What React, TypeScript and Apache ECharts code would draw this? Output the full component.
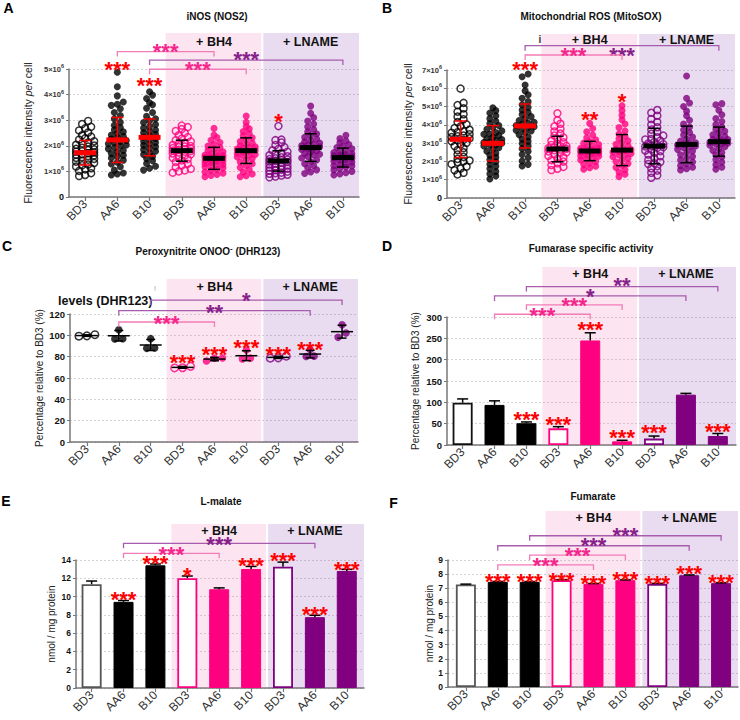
import React, { useEffect, useRef } from "react";
import * as echarts from "echarts";

// ---------- shared labels ----------
const CATEGORIES = ["BD3", "AA6", "B10", "BD3", "AA6", "B10", "BD3", "AA6", "B10"];
const TREATMENTS = ["+ BH4", "+ LNAME"];
const LETTERS = ["A", "B", "C", "D", "E", "F"];
const TITLES = [
  "iNOS (NOS2)",
  "Mitochondrial ROS (MitoSOX)",
  "{b|Peroxynitrite ONOO}{s|-}{b| (DHR123)}",
  "Fumarase specific activity",
  "L-malate",
  "Fumarate",
];
const Y_NAMES = [
  "Fluorescence intensity {i|per} cell",
  "Fluorescence intensity {i|per} cell",
  "Percentage relative to BD3 (%)",
  "Percentage relative to BD3 (%)",
  "nmol / mg protein",
  "nmol / mg protein",
];

// ---------- Panel A: iNOS, fluorescence per cell (x10^6) ----------
const A_BD3 = [0.82, 0.86, 0.93, 1.02, 1.08, 1.12, 1.19, 1.24, 1.27, 1.33, 1.38, 1.41, 1.46, 1.49, 1.53, 1.56, 1.6, 1.63, 1.66, 1.68, 1.71, 1.74, 1.77, 1.79, 1.83, 1.86, 1.88, 1.92, 1.97, 2.01, 2.04, 2.09, 2.13, 2.18, 2.24, 2.29, 2.36, 2.41, 2.52, 2.6, 2.68, 2.74, 2.85, 2.97];
const A_AA6 = [0.86, 0.9, 0.94, 1.05, 1.18, 1.29, 1.36, 1.44, 1.52, 1.58, 1.63, 1.7, 1.76, 1.82, 1.88, 1.93, 1.99, 2.03, 2.08, 2.12, 2.17, 2.21, 2.26, 2.31, 2.37, 2.42, 2.48, 2.55, 2.63, 2.71, 2.8, 2.92, 3.05, 3.18, 3.3, 3.45, 3.58, 3.62, 3.71, 3.95, 4.31, 4.87];
const A_B10 = [1.05, 1.12, 1.2, 1.31, 1.42, 1.5, 1.58, 1.66, 1.72, 1.79, 1.85, 1.9, 1.96, 2.02, 2.07, 2.13, 2.18, 2.24, 2.29, 2.34, 2.39, 2.45, 2.51, 2.56, 2.62, 2.69, 2.75, 2.83, 2.91, 2.98, 3.06, 3.15, 3.3, 3.47, 3.6, 3.68, 3.85, 3.98, 4.11];
const A_BD3_BH4 = [0.95, 1.0, 1.04, 1.1, 1.16, 1.23, 1.3, 1.37, 1.43, 1.48, 1.53, 1.58, 1.62, 1.67, 1.7, 1.74, 1.77, 1.79, 1.81, 1.84, 1.86, 1.88, 1.91, 1.95, 1.97, 1.99, 2.03, 2.07, 2.12, 2.17, 2.22, 2.28, 2.34, 2.41, 2.5, 2.58, 2.65, 2.73, 2.79];
const A_AA6_BH4 = [0.79, 0.84, 0.88, 0.93, 0.98, 1.03, 1.08, 1.13, 1.18, 1.22, 1.25, 1.27, 1.31, 1.35, 1.39, 1.41, 1.43, 1.46, 1.5, 1.53, 1.55, 1.57, 1.6, 1.62, 1.64, 1.68, 1.72, 1.77, 1.82, 1.88, 1.93, 1.99, 2.06, 2.13, 2.22, 2.32, 2.42, 2.68];
const A_B10_BH4 = [0.79, 0.83, 0.9, 0.98, 1.07, 1.15, 1.23, 1.3, 1.37, 1.44, 1.5, 1.56, 1.61, 1.64, 1.66, 1.71, 1.75, 1.79, 1.83, 1.87, 1.91, 1.93, 1.96, 2.0, 2.05, 2.11, 2.17, 2.24, 2.31, 2.39, 2.48, 2.56, 2.66, 2.75, 2.92, 3.16];
const A_BD3_LNAME = [0.77, 0.8, 0.84, 0.87, 0.91, 0.93, 0.95, 0.99, 1.03, 1.05, 1.07, 1.11, 1.15, 1.19, 1.21, 1.23, 1.27, 1.3, 1.34, 1.37, 1.39, 1.41, 1.44, 1.46, 1.48, 1.51, 1.55, 1.59, 1.63, 1.67, 1.72, 1.77, 1.82, 1.88, 1.95, 2.03, 2.13, 2.22, 2.24, 2.77];
const A_AA6_LNAME = [0.92, 0.98, 1.06, 1.14, 1.22, 1.3, 1.38, 1.45, 1.52, 1.58, 1.64, 1.67, 1.7, 1.76, 1.81, 1.86, 1.88, 1.91, 1.96, 2.01, 2.03, 2.06, 2.11, 2.16, 2.21, 2.27, 2.33, 2.4, 2.47, 2.55, 2.64, 2.74, 2.85, 2.97, 3.1, 3.27, 3.55];
const A_B10_LNAME = [0.86, 0.9, 0.95, 1.0, 1.06, 1.11, 1.17, 1.21, 1.22, 1.27, 1.32, 1.36, 1.4, 1.44, 1.48, 1.5, 1.52, 1.55, 1.57, 1.59, 1.62, 1.64, 1.66, 1.7, 1.74, 1.78, 1.83, 1.88, 1.93, 1.99, 2.05, 2.12, 2.2, 2.28, 2.41];
const A_MEAN = [1.73, 2.23, 2.33, 1.81, 1.51, 1.81, 1.41, 1.93, 1.54];
const A_SD = [0.48, 0.88, 0.72, 0.41, 0.43, 0.5, 0.4, 0.54, 0.37];
const A_COMPARISONS: [number, number, string][] = [[1, 4, "***"], [2, 8, "***"], [2, 5, "***"]];
const A_VS_BD3 = ["", "***", "***", "", "", "", "*", "", ""];

// ---------- Panel B: mitochondrial ROS (x10^6) ----------
const B_BD3 = [1.29, 1.38, 1.52, 1.61, 1.72, 1.85, 1.96, 2.0, 2.05, 2.14, 2.25, 2.38, 2.5, 2.62, 2.73, 2.84, 2.93, 3.02, 3.1, 3.15, 3.18, 3.26, 3.33, 3.38, 3.41, 3.49, 3.57, 3.6, 3.65, 3.73, 3.82, 3.92, 4.03, 4.15, 4.3, 4.45, 4.58, 4.72, 4.9, 5.08, 5.2, 5.98];
const B_AA6 = [1.04, 1.2, 1.32, 1.45, 1.6, 1.73, 1.85, 1.98, 2.1, 2.22, 2.34, 2.45, 2.56, 2.66, 2.75, 2.84, 2.88, 2.92, 3.0, 3.04, 3.08, 3.16, 3.2, 3.24, 3.32, 3.4, 3.49, 3.5, 3.58, 3.67, 3.76, 3.86, 3.96, 4.07, 4.2, 4.34, 4.5, 4.65, 4.78, 4.94];
const B_B10 = [1.75, 1.84, 2.02, 2.2, 2.38, 2.55, 2.7, 2.85, 2.98, 3.1, 3.22, 3.34, 3.46, 3.57, 3.67, 3.7, 3.77, 3.87, 3.9, 3.96, 4.05, 4.1, 4.14, 4.24, 4.34, 4.45, 4.56, 4.68, 4.81, 4.95, 5.1, 5.27, 5.45, 5.65, 5.86, 6.18, 6.63, 6.78];
const B_BD3_BH4 = [1.53, 1.6, 1.7, 1.8, 1.9, 1.99, 2.07, 2.15, 2.23, 2.31, 2.39, 2.47, 2.5, 2.55, 2.62, 2.65, 2.69, 2.72, 2.76, 2.83, 2.85, 2.9, 2.97, 3.05, 3.13, 3.22, 3.31, 3.41, 3.52, 3.64, 3.78, 3.92, 4.06, 4.25, 4.63];
const B_AA6_BH4 = [1.57, 1.65, 1.74, 1.83, 1.92, 2.0, 2.08, 2.15, 2.22, 2.29, 2.3, 2.36, 2.42, 2.45, 2.48, 2.5, 2.54, 2.56, 2.6, 2.63, 2.66, 2.7, 2.72, 2.78, 2.85, 2.92, 3.0, 3.09, 3.19, 3.3, 3.45, 3.62, 3.8, 4.08];
const B_B10_BH4 = [1.17, 1.3, 1.42, 1.55, 1.67, 1.78, 1.88, 1.98, 2.08, 2.17, 2.26, 2.35, 2.4, 2.44, 2.52, 2.55, 2.6, 2.65, 2.68, 2.76, 2.85, 2.94, 3.03, 3.13, 3.24, 3.36, 3.5, 3.66, 3.85, 4.05, 4.28, 4.52, 4.78, 5.05];
const B_BD3_LNAME = [1.11, 1.24, 1.38, 1.5, 1.62, 1.74, 1.86, 1.9, 1.97, 2.08, 2.18, 2.28, 2.38, 2.47, 2.56, 2.6, 2.65, 2.74, 2.78, 2.82, 2.86, 2.9, 2.94, 2.98, 3.06, 3.14, 3.2, 3.23, 3.32, 3.41, 3.51, 3.62, 3.74, 3.87, 4.01, 4.16, 4.32, 4.5, 4.66, 4.81];
const B_AA6_LNAME = [1.53, 1.6, 1.68, 1.77, 1.87, 1.97, 2.07, 2.17, 2.27, 2.37, 2.47, 2.57, 2.66, 2.75, 2.8, 2.84, 2.9, 2.93, 3.0, 3.02, 3.12, 3.22, 3.33, 3.45, 3.58, 3.72, 3.88, 4.05, 4.25, 4.5, 4.75, 5.0, 5.2, 5.45, 6.67];
const B_B10_LNAME = [1.57, 1.68, 1.82, 1.96, 2.1, 2.24, 2.37, 2.49, 2.6, 2.7, 2.8, 2.89, 2.95, 2.97, 3.0, 3.05, 3.1, 3.13, 3.2, 3.21, 3.29, 3.37, 3.46, 3.55, 3.65, 3.76, 3.88, 4.02, 4.18, 4.35, 4.55, 4.8, 5.1, 5.16];
const B_MEAN = [3.21, 2.99, 3.94, 2.68, 2.57, 2.62, 2.84, 2.93, 3.08];
const B_SD = [1.0, 0.97, 1.2, 0.7, 0.53, 0.85, 0.97, 1.0, 0.8];
const B_COMPARISONS: [number, number, string][] = [[2, 8, "***"], [2, 5, "***"]];
const B_VS_BD3 = ["", "", "***", "", "**", "*", "", "", ""];

// ---------- Panel C: peroxynitrite, % of BD3 ----------
const C_BD3 = [100.6, 99.2, 99.5];
const C_AA6 = [105.3, 96.6, 96.9];
const C_B10 = [96.9, 87.8, 88.1];
const C_BD3_BH4 = [70.9, 69.4, 69.6];
const C_AA6_BH4 = [78.8, 75.9, 78.5];
const C_B10_BH4 = [86.2, 77.9, 78.6];
const C_BD3_LNAME = [80.5, 78.6, 78.9];
const C_AA6_LNAME = [86.6, 80.2, 80.5];
const C_B10_LNAME = [110.0, 98.1, 102.2];
const C_COMPARISONS: [number, number, string][] = [[2, 8, "*"], [1, 7, "**"], [1, 4, "***"]];
const C_VS_BD3 = ["", "", "", "***", "***", "***", "***", "***", ""];

// ---------- Panel D: fumarase activity, % of BD3 ----------
const D_MEAN = [99, 94, 51, 39, 245, 8.5, 15, 118, 21];
const D_ERR = [9, 9.5, 3, 4, 18, 2.5, 6, 3, 6];
const D_COMPARISONS: [number, number, string][] = [[2, 8, "**"], [1, 7, "*"], [2, 5, "***"], [1, 4, "***"]];
const D_VS_BD3 = ["", "", "***", "***", "***", "***", "***", "", "***"];

// ---------- Panel E: L-malate, nmol/mg protein ----------
const E_MEAN = [11.35, 9.42, 13.42, 12.0, 10.8, 13.02, 13.27, 7.75, 12.8];
const E_ERR = [0.35, 0.15, 0.14, 0.25, 0.15, 0.28, 0.5, 0.21, 0.18];
const E_COMPARISONS: [number, number, string][] = [[1, 7, "***"], [1, 4, "***"]];
const E_VS_BD3 = ["", "***", "***", "*", "", "***", "***", "***", "***"];

// ---------- Panel F: fumarate, nmol/mg protein ----------
const F_MEAN = [7.26, 7.45, 7.45, 7.57, 7.31, 7.57, 7.31, 7.92, 7.36];
const F_ERR = [0.03, 0.03, 0.02, 0.04, 0.02, 0.02, 0.03, 0.02, 0.02];
const F_COMPARISONS: [number, number, string][] = [[2, 8, "***"], [1, 7, "***"], [2, 5, "***"], [1, 4, "***"]];
const F_VS_BD3 = ["", "***", "***", "***", "***", "***", "***", "***", "***"];

// ---------- styling / layout ----------
const FONT = "'Liberation Sans', Arial, Helvetica, sans-serif";
const PINK = "#ff0080";
const PURPLE = "#800080";
const RED = "#ff0000";
const PINK_LINE = "#f27cb6";
const PINK_STAR = "#f5258c";
const PURPLE_LINE = "#a85cad";
const PURPLE_STAR = "#86208a";
const BAND_FILL = ["rgba(240,125,180,0.2)", "rgba(145,80,180,0.2)"];
const AXIS_COLOR = "#777";
const FS_STAR = 22;

const LAYOUT = [
  { left: 69, top: 69, width: 290, height: 128, xMin: -0.5, xMax: 8.5, yMax: 5, yInt: 1, bandTop: 33, headerY: 41.5, nameGap: 36, nameSize: 10.5, labelKind: "sci", labelSize: 7,
    letter: [8.5, 8], title: [217, 16], bracketY: [[5.68, 5.86], [5.35, 5.55], [4.99, 5.16]], starY: [0, 5.16, 4.53, 0, 0, 0, 3.14, 0, 0] },
  { left: 447, top: 70, width: 288, height: 128, xMin: -0.42, xMax: 8.5, yMax: 7, yInt: 1, bandTop: 34, headerY: 40, nameGap: 34, nameSize: 10.5, labelKind: "sci", labelSize: 7,
    letter: [387, 8], title: [591, 16.5], bracketY: [[8.33, 8.05], [7.82, 8.05]], starY: [0, 0, 7.27, 0, 4.54, 5.54, 0, 0, 0] },
  { left: 70, top: 314, width: 288, height: 128, xMin: -0.53, xMax: 8.5, yMax: 120, yInt: 20, bandTop: 279, headerY: 287, nameGap: 26, nameSize: 10, labelKind: "bold", labelSize: 9.5,
    letter: [7, 245.5], title: [208, 251.5], bracketY: [[133.1, 136.5], [123.1, 125.9], [112.5, 115.3]], starY: [0, 0, 0, 79, 86.5, 93.1, 86.5, 91.2, 0] },
  { left: 447, top: 317, width: 289, height: 128, xMin: -0.49, xMax: 8.57, yMax: 300, yInt: 50, bandTop: 267, headerY: 274, nameGap: 27, nameSize: 10, labelKind: "bold", labelSize: 9.5,
    letter: [387, 246], title: [591, 248.5], bracketY: [[371.2, 383], [349.4, 359.5], [328.2, 337.6], [306.4, 314.9]], starY: [0, 0, 69.8, 58, 281, 27.5, 39.2, 0, 42.3] },
  { left: 76, top: 560, width: 288, height: 128, xMin: -0.49, xMax: 8.54, yMax: 14, yInt: 2, bandTop: 524, headerY: 531, nameGap: 20, nameSize: 10, labelKind: "bold", labelSize: 8.5,
    letter: [6, 500.5], title: [221, 501.5], bracketY: [[15.82, 16.18], [14.73, 15.09]], starY: [0, 10.18, 14.08, 12.8, 0, 13.89, 14.44, 8.54, 13.45] },
  { left: 448, top: 560, width: 290, height: 127, xMin: -0.56, xMax: 8.53, yMax: 9, yInt: 1, bandTop: 511, headerY: 518, nameGap: 13, nameSize: 10, labelKind: "bold", labelSize: 8.5,
    letter: [393.5, 502.5], title: [593, 496.7], bracketY: [[10.72, 11.05], [10.01, 10.34], [9.35, 9.66], [8.65, 8.95]], starY: [0, 7.82, 7.82, 7.87, 7.64, 7.94, 7.64, 8.34, 7.71] },
];

const SCATTER_GROUPS = [
  [A_BD3, A_AA6, A_B10, A_BD3_BH4, A_AA6_BH4, A_B10_BH4, A_BD3_LNAME, A_AA6_LNAME, A_B10_LNAME],
  [B_BD3, B_AA6, B_B10, B_BD3_BH4, B_AA6_BH4, B_B10_BH4, B_BD3_LNAME, B_AA6_LNAME, B_B10_LNAME],
  [C_BD3, C_AA6, C_B10, C_BD3_BH4, C_AA6_BH4, C_B10_BH4, C_BD3_LNAME, C_AA6_LNAME, C_B10_LNAME],
];
const mean = (a: number[]) => a.reduce((s, v) => s + v, 0) / a.length;
const sd = (a: number[]) => {
  const m = mean(a);
  return Math.sqrt(a.reduce((s, v) => s + (v - m) * (v - m), 0) / (a.length - 1));
};
const SCATTER_MEAN = [A_MEAN, B_MEAN, SCATTER_GROUPS[2].map(mean)];
const SCATTER_SD = [A_SD, B_SD, SCATTER_GROUPS[2].map(sd)];
const BAR_MEAN = [D_MEAN, E_MEAN, F_MEAN];
const BAR_ERR = [D_ERR, E_ERR, F_ERR];
const COMPARISONS = [A_COMPARISONS, B_COMPARISONS, C_COMPARISONS, D_COMPARISONS, E_COMPARISONS, F_COMPARISONS];
const VS_BD3 = [A_VS_BD3, B_VS_BD3, C_VS_BD3, D_VS_BD3, E_VS_BD3, F_VS_BD3];

const groupColor = (i: number) => (i < 3 ? "#000" : i < 6 ? PINK : PURPLE);

// row-based dot layout (GraphPad style): returns [x offset in axis units, value]
function swarm(values: number[], pxY: number, pxX: number, step: number, maxRow: number, tol: number) {
  const sorted = [...values].sort((a, b) => a - b);
  const out: [number, number][] = [];
  let row: number[] = [];
  const flush = () => {
    const n = row.length;
    row.forEach((v, k) => out.push([((k - (n - 1) / 2) * step) / pxX, v]));
    row = [];
  };
  sorted.forEach((v) => {
    if (row.length && ((v - row[0]) * pxY > tol || row.length >= maxRow)) flush();
    row.push(v);
  });
  flush();
  return out;
}

function starText(x: number, y: number, text: string, fill: string) {
  return {
    type: "text",
    style: { text, x, y: y + FS_STAR * 0.2, align: "center", verticalAlign: "middle", fontSize: FS_STAR, fontWeight: "bold", fontFamily: FONT, fill },
  };
}

function buildOption() {
  const series: any[] = [];
  LAYOUT.forEach((L, p) => {
    const ax = { xAxisIndex: p, yAxisIndex: p };
    // shaded treatment bands with headers
    series.push({
      type: "custom", ...ax, z: 1, silent: true, clip: false,
      data: [[2.5, 5.5], [5.5, L.xMax]],
      renderItem: (params: any, api: any) => {
        const i = params.dataIndex;
        const x0 = api.value(0) as number;
        const xa = api.coord([x0, 0])[0] + (i === 1 ? 1 : 0);
        const xb = api.coord([api.value(1), 0])[0] - (i === 0 ? 1 : 0);
        const xc = api.coord([x0 + 1.5, 0])[0];
        const yb = api.coord([0, 0])[1];
        return {
          type: "group",
          children: [
            { type: "rect", shape: { x: xa, y: L.bandTop, width: xb - xa, height: yb - L.bandTop }, style: { fill: BAND_FILL[i] } },
            { type: "text", style: { text: TREATMENTS[i], x: xc, y: L.headerY, align: "center", verticalAlign: "middle", fontSize: 12.5, fontWeight: "bold", fontFamily: FONT, fill: "#111" } },
          ],
        };
      },
    });

    if (p < 3) {
      const pxY = L.height / L.yMax;
      const pxX = L.width / (L.xMax - L.xMin);
      const big = p < 2;
      const pts: any[] = [];
      SCATTER_GROUPS[p].forEach((vals, i) => {
        const col = groupColor(i);
        const hollow = i % 3 === 0;
        swarm(vals, pxY, pxX, big ? 6 : 8, big ? 4 : 3, big ? 4 : 5).forEach(([dx, v]) => {
          pts.push({
            value: [i + dx, v],
            itemStyle: hollow ? { color: "rgba(255,255,255,0)", borderColor: col, borderWidth: 1.5 } : { color: col, borderWidth: 0 },
          });
        });
      });
      series.push({ type: "scatter", ...ax, z: 3, symbol: "circle", symbolSize: big ? 7 : 7.5, data: pts, silent: true });
      const ms = SCATTER_MEAN[p];
      const ss = SCATTER_SD[p];
      series.push({
        type: "custom", ...ax, z: 4, silent: true, clip: false,
        data: ms.map((m, i) => [i, m, ss[i]]),
        renderItem: (params: any, api: any) => {
          const i = params.dataIndex;
          const x = api.value(0), m = api.value(1), s = api.value(2);
          const c = api.coord([x, m]), t = api.coord([x, m + s]), b = api.coord([x, m - s]);
          const col = big && i < 3 ? RED : "#000";
          const cap = big ? 6 : 4.5;
          const mw = 11;
          return {
            type: "group",
            children: [
              { type: "line", shape: { x1: c[0], y1: t[1], x2: c[0], y2: b[1] }, style: { stroke: col, lineWidth: 1.5 } },
              { type: "line", shape: { x1: c[0] - cap, y1: t[1], x2: c[0] + cap, y2: t[1] }, style: { stroke: col, lineWidth: 1.5 } },
              { type: "line", shape: { x1: c[0] - cap, y1: b[1], x2: c[0] + cap, y2: b[1] }, style: { stroke: col, lineWidth: 1.5 } },
              { type: "line", shape: { x1: c[0] - mw, y1: c[1], x2: c[0] + mw, y2: c[1] }, style: { stroke: col, lineWidth: big ? 5 : 1.5 } },
            ],
          };
        },
      });
    } else {
      const ms = BAR_MEAN[p - 3];
      const es = BAR_ERR[p - 3];
      series.push({
        type: "bar", ...ax, z: 2, barWidth: 20, silent: true,
        data: ms.map((m, i) => {
          const col = groupColor(i);
          const hollow = i % 3 === 0;
          const firstBorder = p === 3 ? "#111" : "#555";
          return {
            value: [i, m],
            itemStyle: hollow
              ? { color: "#fff", borderColor: i === 0 ? firstBorder : col, borderWidth: 1.8 }
              : { color: col, borderColor: col, borderWidth: 1 },
          };
        }),
      });
      series.push({
        type: "custom", ...ax, z: 4, silent: true, clip: false,
        data: ms.map((m, i) => [i, m, es[i]]),
        renderItem: (params: any, api: any) => {
          const x = api.value(0), m = api.value(1), e = api.value(2);
          const c = api.coord([x, m]), t = api.coord([x, m + e]);
          return {
            type: "group",
            children: [
              { type: "line", shape: { x1: c[0], y1: c[1], x2: c[0], y2: t[1] }, style: { stroke: "#000", lineWidth: 1.5 } },
              { type: "line", shape: { x1: c[0] - 5.5, y1: t[1], x2: c[0] + 5.5, y2: t[1] }, style: { stroke: "#000", lineWidth: 1.5 } },
            ],
          };
        },
      });
    }

    // comparison brackets
    const comps = COMPARISONS[p];
    series.push({
      type: "custom", ...ax, z: 5, silent: true, clip: false,
      data: comps.map((c, k) => [c[0], L.bracketY[k][0]]),
      renderItem: (params: any, api: any) => {
        const k = params.dataIndex;
        const [from, to, label] = comps[k];
        const [ly, sy] = L.bracketY[k];
        const a = api.coord([from, ly]);
        const b = api.coord([to, ly]);
        const s = api.coord([(from + to) / 2, sy]);
        const purple = to >= 6;
        return {
          type: "group",
          children: [
            { type: "polyline", shape: { points: [[a[0], a[1] + 5], [a[0], a[1]], [b[0], b[1]], [b[0], b[1] + 5]] }, style: { stroke: purple ? PURPLE_LINE : PINK_LINE, lineWidth: 1.3, fill: null } },
            starText(s[0], s[1], label, purple ? PURPLE_STAR : PINK_STAR),
          ],
        };
      },
    });

    // red significance vs BD3
    const idx = VS_BD3[p].map((t, i) => (t ? i : -1)).filter((i) => i >= 0);
    series.push({
      type: "custom", ...ax, z: 5, silent: true, clip: false,
      data: idx.map((i) => [i, L.starY[i]]),
      renderItem: (params: any, api: any) => {
        const i = idx[params.dataIndex];
        const c = api.coord([api.value(0), api.value(1)]);
        return starText(c[0], c[1], VS_BD3[p][i], RED);
      },
    });
  });

  const TICKS = CATEGORIES.map((_, i) => i);

  return {
    animation: false,
    backgroundColor: "#fff",
    textStyle: { fontFamily: FONT },
    grid: LAYOUT.map((L) => ({ left: L.left, top: L.top, width: L.width, height: L.height })),
    xAxis: LAYOUT.map((L, i) => ({
      type: "value", gridIndex: i, min: L.xMin, max: L.xMax,
      axisLine: { show: true, onZero: false, lineStyle: { color: AXIS_COLOR, width: 1.5 } },
      axisTick: { show: true, customValues: TICKS, length: 4, lineStyle: { color: AXIS_COLOR, width: 1.2 } },
      axisLabel: {
        customValues: TICKS, rotate: 45, fontSize: 12, color: "#333", margin: 5, fontFamily: FONT,
        formatter: (v: number) => CATEGORIES[Math.round(v)] ?? "",
      },
      splitLine: { show: false },
    })),
    yAxis: LAYOUT.map((L, i) => ({
      type: "value", gridIndex: i, min: 0, max: L.yMax, interval: L.yInt,
      axisLine: { show: true, onZero: false, lineStyle: { color: AXIS_COLOR, width: 1.5 } },
      axisTick: { show: true, length: 3, lineStyle: { color: AXIS_COLOR, width: 1 } },
      splitLine: { show: true, lineStyle: { color: "#d4d4d4", width: 1, type: [2, 2] } },
      axisLabel:
        L.labelKind === "sci"
          ? {
              margin: 5,
              formatter: (v: number) => (v === 0 ? "{z|0}" : `{m|${v}×10}{s|6}`),
              rich: {
                z: { fontSize: 9, fontWeight: "bold", color: "#111", fontFamily: FONT },
                m: { fontSize: 7.5, color: "#333", fontWeight: "bold", lineHeight: 12, fontFamily: FONT },
                s: { fontSize: 5.5, color: "#333", fontWeight: "bold", verticalAlign: "top", lineHeight: 12, fontFamily: FONT },
              },
            }
          : { margin: 5, fontSize: L.labelSize, fontWeight: "bold", color: "#111", fontFamily: FONT },
      name: Y_NAMES[i],
      nameLocation: "middle",
      nameGap: L.nameGap,
      nameTextStyle: {
        fontSize: L.nameSize, color: "#222", fontFamily: FONT,
        rich: { i: { fontStyle: "italic", fontSize: L.nameSize, color: "#222", fontFamily: FONT } },
      },
    })),
    series,
    graphic: [
      ...LAYOUT.map((L, i) => ({
        type: "text", x: L.letter[0], y: L.letter[1], silent: true,
        style: { text: LETTERS[i], fontSize: 14, fontWeight: "bold", fill: "#000", align: "center", verticalAlign: "middle", fontFamily: FONT },
      })),
      ...LAYOUT.map((L, i) => ({
        type: "text", x: L.title[0], y: L.title[1], silent: true,
        style: {
          text: TITLES[i], fontSize: 10, fontWeight: "bold", fill: "#111", align: "center", verticalAlign: "middle", fontFamily: FONT,
          rich: {
            b: { fontSize: 10, fontWeight: "bold", fill: "#111", lineHeight: 14, fontFamily: FONT },
            s: { fontSize: 8, fontWeight: "bold", fill: "#111", verticalAlign: "top", lineHeight: 14, fontFamily: FONT },
          },
        },
      })),
      {
        type: "text", x: 58, y: 301, silent: true,
        style: { text: "levels (DHR123)", fontSize: 12.5, fontWeight: "bold", fill: "#111", align: "left", verticalAlign: "middle", fontFamily: FONT },
      },
      {
        type: "text", x: 540, y: 39, silent: true,
        style: { text: "i", fontSize: 10, fontWeight: "bold", fill: "#333", align: "center", verticalAlign: "middle", fontFamily: FONT },
      },
      {
        type: "text", x: 155, y: 288, silent: true,
        style: { text: "!", fontSize: 7, fill: "#999", align: "center", verticalAlign: "middle", fontFamily: FONT },
      },
    ],
  };
}

export default function App() {
  const ref = useRef<HTMLDivElement>(null);
  useEffect(() => {
    if (!ref.current) return;
    const chart = echarts.init(ref.current, undefined, { renderer: "svg" });
    chart.setOption(buildOption() as any);
    return () => chart.dispose();
  }, []);
  return <div ref={ref} style={{ position: "absolute", left: 0, top: 0, width: 740, height: 720, background: "#fff" }} />;
}
